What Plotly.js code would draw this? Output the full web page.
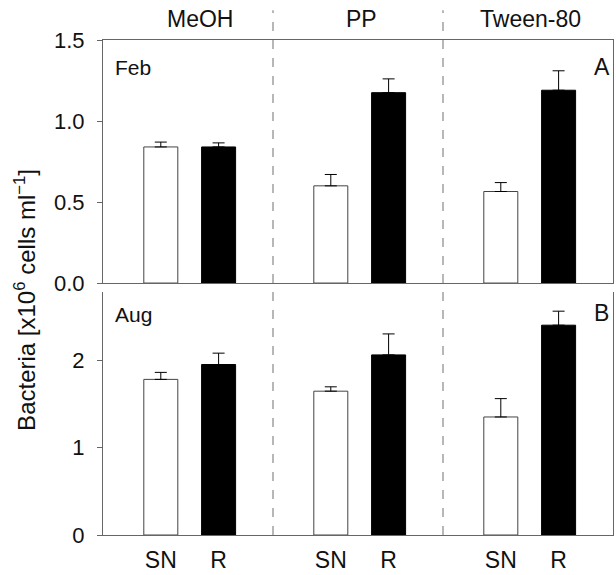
<!DOCTYPE html>
<html>
<head>
<meta charset="utf-8">
<script src="https://cdn.plot.ly/plotly-3.0.1.min.js"></script>
<style>html,body{margin:0;padding:0;background:#fff;}#chart{width:616px;height:575px;}</style>
</head>
<body>
<div id="chart"></div>
<script>
// ---- data ----
const groups = ["MeOH", "PP", "Tween-80"];
const sampleLabels = ["SN", "R"];
const febSN = [0.84, 0.60, 0.565];
const febSNerr = [0.03, 0.07, 0.055];
const febR = [0.84, 1.175, 1.19];
const febRerr = [0.025, 0.085, 0.12];
const augSN = [1.78, 1.645, 1.35];
const augSNerr = [0.08, 0.05, 0.21];
const augR = [1.95, 2.06, 2.40];
const augRerr = [0.13, 0.24, 0.16];
const panelMonths = ["Feb", "Aug"];
const panelLetters = ["A", "B"];
const topTicks = [0, 0.5, 1.0, 1.5];
const bottomTicks = [0, 1, 2];

// ---- layout helpers ----
const offSN = 0.34, offR = 0.68, barW = 0.2;
const xSN = groups.map((g, i) => i + offSN);
const xR = groups.map((g, i) => i + offR);
const lineCol = "#666";
const fnt = "Arial, 'Liberation Sans', sans-serif";

function bar(x, y, err, fill, xa, ya) {
  return {
    type: "bar", x: x, y: y, width: barW, xaxis: xa, yaxis: ya,
    marker: {color: fill, line: {color: fill === "#000" ? "#000" : "#444", width: 1}},
    error_y: {type: "data", symmetric: false, array: err, arrayminus: err.map(() => 0),
              color: "#000", thickness: 1, width: 6},
    showlegend: false, hoverinfo: "skip"
  };
}

const data = [
  bar(xSN, febSN, febSNerr, "#fff", "x", "y"),
  bar(xR, febR, febRerr, "#000", "x", "y"),
  bar(xSN, augSN, augSNerr, "#fff", "x2", "y2"),
  bar(xR, augR, augRerr, "#000", "x2", "y2")
];

const tickvals = [], ticktext = [];
groups.forEach((g, i) => {
  tickvals.push(xSN[i], xR[i]);
  ticktext.push(sampleLabels[0], sampleLabels[1]);
});

const groupLabelX = [0.57, 1.52, 2.515];
const annotations = groups.map((g, i) => ({
  text: g, xref: "x", yref: "paper", x: groupLabelX[i], y: 1.042,
  xanchor: "center", yanchor: "middle", showarrow: false,
  font: {size: 23, color: "#111", family: fnt}
}));
annotations.push(
  {text: panelMonths[0], xref: "paper", yref: "paper", x: 0.02, y: 0.945, xanchor: "left", yanchor: "middle", showarrow: false, font: {size: 21, color: "#111", family: fnt}},
  {text: panelMonths[1], xref: "paper", yref: "paper", x: 0.02, y: 0.445, xanchor: "left", yanchor: "middle", showarrow: false, font: {size: 21, color: "#111", family: fnt}},
  {text: panelLetters[0], xref: "paper", yref: "paper", x: 0.978, y: 0.945, xanchor: "center", yanchor: "middle", showarrow: false, font: {size: 23, color: "#111", family: fnt}},
  {text: panelLetters[1], xref: "paper", yref: "paper", x: 0.978, y: 0.448, xanchor: "center", yanchor: "middle", showarrow: false, font: {size: 23, color: "#111", family: fnt}},
  {text: "Bacteria [x10<sup>6</sup> cells ml<sup>−1</sup>]", xref: "paper", yref: "paper", x: 0, y: 0.475, xshift: -78,
   textangle: -90, xanchor: "center", yanchor: "middle", showarrow: false, font: {size: 24, color: "#111", family: fnt}}
);

const shapes = [1, 2].map(v => ({
  type: "line", xref: "x", yref: "paper", x0: v, x1: v, y0: 0, y1: 1.06,
  line: {color: "#888", width: 1.2, dash: "dash"}
}));

const layout = {
  width: 616, height: 575,
  margin: {l: 103, r: 3, t: 40, b: 40},
  paper_bgcolor: "#fff", plot_bgcolor: "#fff",
  font: {family: fnt, size: 22, color: "#111"},
  showlegend: false,
  bargap: 0,
  xaxis: {domain: [0, 1], range: [0, 3], anchor: "y", showline: true, mirror: true, linecolor: lineCol, linewidth: 1,
          showgrid: false, zeroline: false, showticklabels: false, ticks: "", fixedrange: true},
  yaxis: {domain: [0.509, 1], range: [0, 1.5], anchor: "x", showline: true, mirror: true, linecolor: lineCol, linewidth: 1,
          showgrid: false, zeroline: false, ticks: "outside", ticklen: 5, tickcolor: lineCol,
          tickvals: topTicks, tickformat: ".1f", ticklabelstandoff: 8, tickfont: {size: 22, color: "#111"}},
  xaxis2: {domain: [0, 1], range: [0, 3], anchor: "y2", showline: true, mirror: false, linecolor: lineCol, linewidth: 1,
           showgrid: false, zeroline: false, tickvals: tickvals, ticktext: ticktext, ticks: "outside", ticklen: 4,
           tickcolor: "rgba(0,0,0,0)", tickfont: {size: 23, color: "#111"}},
  yaxis2: {domain: [0, 0.491], range: [0, 2.78], anchor: "x2", showline: true, mirror: true, linecolor: lineCol, linewidth: 1,
           showgrid: false, zeroline: false, ticks: "outside", ticklen: 5, tickcolor: lineCol,
           tickvals: bottomTicks, tickformat: "d", ticklabelstandoff: 8, tickfont: {size: 22, color: "#111"}},
  annotations: annotations,
  shapes: shapes
};

Plotly.newPlot("chart", data, layout, {displayModeBar: false, staticPlot: true});
</script>
</body>
</html>
